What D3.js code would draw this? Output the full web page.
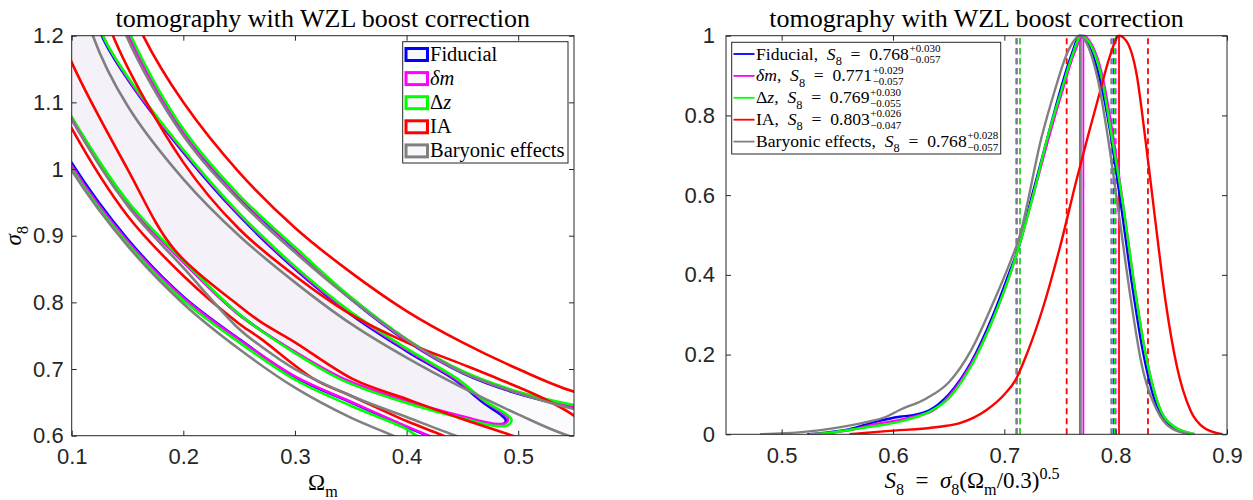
<!DOCTYPE html>
<html>
<head>
<meta charset="utf-8">
<script src="https://cdn.jsdelivr.net/npm/d3@7"></script>
<style>
  body { margin: 0; background: #ffffff; }
  svg { display: block; }
</style>
</head>
<body>
<svg id="fig" width="1253" height="500"></svg>
<script>
// ---------------- data ----------------
const modelNames  = ["Fiducial", "δm", "Δz", "IA", "Baryonic effects"];
const modelColors = ["#0000ff", "#ff00ff", "#00ff00", "#ff0000", "#808080"];

// S8 summary per model
const s8Mean  = [0.768, 0.771, 0.769, 0.803, 0.768];
const s8Plus  = [0.030, 0.029, 0.030, 0.026, 0.028];
const s8Minus = [0.057, 0.057, 0.055, 0.047, 0.057];

// tick labels
const omTicks  = [0.1, 0.2, 0.3, 0.4, 0.5];
const sigTicks = [0.6, 0.7, 0.8, 0.9, 1.0, 1.1, 1.2];
const s8Ticks  = [0.5, 0.6, 0.7, 0.8, 0.9];
const pTicks   = [0, 0.2, 0.4, 0.6, 0.8, 1];

// 2D contours in (Ωm, σ8): lower branch, then upper branch back to the start (closed)
const fid1 = [[0.05,1.30],[0.08,1.14],[0.1,1.076],[0.15,0.95],[0.2,0.862],[0.25,0.782],[0.3,0.725],[0.343,0.684],[0.4,0.65],[0.45,0.628],[0.475,0.617],[0.486,0.617],[0.489,0.623],
              [0.484,0.632],[0.47,0.648],[0.443,0.684],[0.4,0.727],[0.35,0.782],[0.3,0.85],[0.25,0.93],[0.2,1.025],[0.15,1.135],[0.127,1.2],[0.115,1.27],[0.05,1.30]];
const fid2 = [[0.05,1.25],[0.08,1.07],[0.1,1.009],[0.15,0.895],[0.2,0.8085],[0.25,0.745],[0.3,0.688],[0.35,0.65],[0.4,0.613],[0.419,0.6],[0.45,0.58],[0.62,0.55],
              [0.62,0.625],[0.55,0.643],[0.5,0.663],[0.45,0.694],[0.4,0.742],[0.35,0.805],[0.3,0.88],[0.25,0.958],[0.2,1.055],[0.151,1.2],[0.13,1.3],[0.05,1.3]];
const dm1  = [[0.05,1.30],[0.08,1.14],[0.1,1.074],[0.15,0.948],[0.2,0.86],[0.25,0.781],[0.3,0.726],[0.343,0.686],[0.4,0.652],[0.45,0.629],[0.478,0.618],[0.489,0.619],[0.491,0.626],
              [0.486,0.634],[0.471,0.65],[0.443,0.686],[0.4,0.729],[0.35,0.784],[0.3,0.852],[0.25,0.932],[0.2,1.027],[0.15,1.137],[0.128,1.2],[0.115,1.27],[0.05,1.30]];
const dm2  = [[0.05,1.25],[0.08,1.07],[0.1,1.005],[0.15,0.892],[0.2,0.807],[0.25,0.744],[0.3,0.689],[0.35,0.651],[0.4,0.614],[0.42,0.6],[0.45,0.58],[0.62,0.55],
              [0.62,0.626],[0.55,0.644],[0.5,0.664],[0.45,0.695],[0.4,0.743],[0.35,0.806],[0.3,0.881],[0.25,0.959],[0.2,1.056],[0.151,1.2],[0.13,1.3],[0.05,1.3]];
const dz1  = [[0.05,1.30],[0.08,1.14],[0.1,1.078],[0.15,0.952],[0.2,0.863],[0.25,0.782],[0.3,0.724],[0.343,0.683],[0.4,0.649],[0.45,0.626],[0.478,0.615],[0.491,0.616],[0.494,0.624],
              [0.488,0.634],[0.472,0.65],[0.445,0.686],[0.4,0.731],[0.35,0.786],[0.3,0.854],[0.25,0.934],[0.2,1.029],[0.15,1.139],[0.128,1.2],[0.115,1.27],[0.05,1.30]];
const dz2  = [[0.05,1.25],[0.08,1.06],[0.1,1.0],[0.15,0.888],[0.2,0.803],[0.25,0.740],[0.3,0.684],[0.35,0.645],[0.4,0.61],[0.409,0.6],[0.45,0.575],[0.62,0.55],
              [0.62,0.627],[0.55,0.646],[0.5,0.666],[0.45,0.697],[0.4,0.745],[0.35,0.808],[0.3,0.883],[0.25,0.961],[0.2,1.06],[0.153,1.2],[0.13,1.3],[0.05,1.3]];
const ia1  = [[0.05,1.40],[0.08,1.25],[0.1,1.16],[0.15,1.0],[0.192,0.879],[0.25,0.795],[0.269,0.771],[0.3,0.74],[0.353,0.684],[0.4,0.655],[0.45,0.625],[0.495,0.6],[0.53,0.58],
              [0.575,0.58],[0.57,0.6],[0.55,0.63],[0.52,0.658],[0.484,0.684],[0.45,0.707],[0.4,0.74],[0.35,0.782],[0.3,0.84],[0.25,0.91],[0.2,1.01],[0.137,1.2],[0.12,1.3],[0.05,1.4]];
const ia2  = [[0.05,1.30],[0.08,1.13],[0.1,1.061],[0.15,0.93],[0.2,0.84],[0.25,0.768],[0.269,0.746],[0.318,0.684],[0.35,0.66],[0.4,0.622],[0.433,0.6],[0.46,0.58],[0.62,0.55],
              [0.62,0.64],[0.55,0.666],[0.5,0.70],[0.45,0.74],[0.4,0.787],[0.35,0.845],[0.3,0.912],[0.25,0.995],[0.2,1.1],[0.164,1.2],[0.14,1.3],[0.05,1.3]];
const bar1 = [[0.05,1.30],[0.08,1.15],[0.1,1.076],[0.15,0.945],[0.2,0.852],[0.25,0.76],[0.269,0.735],[0.3,0.70],[0.35,0.66],[0.4,0.628],[0.444,0.6],[0.47,0.585],[0.62,0.56],
              [0.62,0.57],[0.545,0.6],[0.5,0.632],[0.45,0.672],[0.4,0.717],[0.35,0.768],[0.3,0.83],[0.25,0.9],[0.2,0.985],[0.15,1.095],[0.119,1.2],[0.105,1.3],[0.05,1.3]];
const bar2 = [[0.05,1.25],[0.08,1.06],[0.1,0.998],[0.15,0.885],[0.2,0.798],[0.25,0.73],[0.3,0.672],[0.35,0.627],[0.388,0.6],[0.42,0.575],[0.62,0.55],
              [0.62,0.62],[0.55,0.64],[0.5,0.664],[0.45,0.695],[0.4,0.744],[0.35,0.805],[0.3,0.875],[0.25,0.953],[0.2,1.05],[0.149,1.2],[0.13,1.3],[0.05,1.3]];

// 1D posteriors of S8 (S8, normalised probability)
const pdfFid = [[0.523,0],[0.54,0.004],[0.56,0.012],[0.585,0.032],[0.606,0.044],[0.618,0.048],[0.633,0.061],[0.65,0.10],[0.67,0.18],[0.69,0.30],[0.705,0.41],[0.713,0.47],[0.725,0.60],[0.739,0.747],[0.75,0.86],[0.76,0.95],[0.768,1.0],[0.775,0.98],[0.785,0.90],[0.795,0.76],[0.805,0.57],[0.815,0.37],[0.825,0.20],[0.837,0.07],[0.85,0.02],[0.867,0]];
const pdfDm  = [[0.525,0],[0.54,0.003],[0.56,0.010],[0.585,0.026],[0.606,0.036],[0.624,0.048],[0.635,0.058],[0.65,0.095],[0.67,0.175],[0.69,0.29],[0.705,0.40],[0.713,0.47],[0.725,0.59],[0.74,0.745],[0.752,0.86],[0.762,0.95],[0.771,1.0],[0.778,0.98],[0.788,0.90],[0.797,0.76],[0.807,0.57],[0.817,0.37],[0.827,0.20],[0.839,0.07],[0.852,0.02],[0.871,0]];
const pdfDz  = [[0.525,0],[0.54,0.003],[0.57,0.015],[0.606,0.032],[0.63,0.053],[0.65,0.09],[0.67,0.17],[0.69,0.29],[0.705,0.40],[0.713,0.47],[0.725,0.59],[0.739,0.747],[0.751,0.86],[0.761,0.95],[0.769,1.0],[0.777,0.98],[0.787,0.90],[0.7965,0.747],[0.807,0.57],[0.817,0.37],[0.827,0.20],[0.839,0.07],[0.852,0.02],[0.871,0]];
const pdfIa  = [[0.561,0],[0.594,0.008],[0.642,0.019],[0.66,0.028],[0.684,0.061],[0.70,0.10],[0.71,0.136],[0.72,0.20],[0.735,0.32],[0.75,0.47],[0.765,0.64],[0.775,0.747],[0.785,0.85],[0.795,0.95],[0.803,1.0],[0.81,0.985],[0.819,0.90],[0.8264,0.747],[0.835,0.55],[0.845,0.33],[0.855,0.17],[0.867,0.061],[0.88,0.015],[0.896,0]];
const pdfBar = [[0.4805,0],[0.52,0.006],[0.546,0.015],[0.575,0.03],[0.594,0.044],[0.606,0.061],[0.63,0.09],[0.65,0.13],[0.67,0.21],[0.69,0.33],[0.705,0.43],[0.713,0.49],[0.7336,0.747],[0.745,0.86],[0.757,0.96],[0.768,1.0],[0.775,0.975],[0.784,0.89],[0.7929,0.747],[0.803,0.55],[0.813,0.35],[0.823,0.18],[0.837,0.061],[0.85,0.015],[0.867,0]];

const contours = [[fid1, fid2], [dm1, dm2], [dz1, dz2], [ia1, ia2], [bar1, bar2]];
const pdfs = [pdfFid, pdfDm, pdfDz, pdfIa, pdfBar];

// ---------------- layout ----------------
const svg = d3.select("#fig");
const AX = "#262626";
const SANS = "'Liberation Sans', Arial, sans-serif";
const SERIF = "'Liberation Serif', 'Times New Roman', serif";
const EN = "\u2002";   // wider math spacing around "="

const L = { x0: 71.7, x1: 574, y0: 35.7, y1: 435.7 };
const R = { x0: 726, x1: 1227, y0: 35.7, y1: 434.3 };

const xL = d3.scaleLinear().domain([0.1, 0.55]).range([L.x0, L.x1]);
const yL = d3.scaleLinear().domain([0.6, 1.2]).range([L.y1, L.y0]);
const xR = d3.scaleLinear().domain([0.45, 0.9]).range([R.x0, R.x1]);
const yR = d3.scaleLinear().domain([0, 1]).range([R.y1, R.y0]);

svg.append("rect").attr("width", 1253).attr("height", 500).attr("fill", "#fff");

const defs = svg.append("defs");
defs.append("clipPath").attr("id", "clipL").append("rect")
  .attr("x", L.x0).attr("y", L.y0).attr("width", L.x1 - L.x0).attr("height", L.y1 - L.y0);
defs.append("clipPath").attr("id", "clipR").append("rect")
  .attr("x", R.x0).attr("y", R.y0 - 2).attr("width", R.x1 - R.x0).attr("height", R.y1 - R.y0 + 2);

// math-style text helper: parts = [{t, it, sub, sup}]
function addMath(text, parts, size) {
  let shift = 0;
  parts.forEach(p => {
    const ts = text.append("tspan").text(p.t);
    let target = 0, fs = size;
    if (p.sub) { target = size * 0.3; fs = size * 0.7; }
    if (p.sup) { target = -size * 0.4; fs = size * 0.7; }
    ts.attr("font-size", fs);
    if (p.it) ts.attr("font-style", "italic");
    const dy = target - shift;
    if (dy !== 0) ts.attr("dy", dy);
    shift = target;
  });
  return text;
}

function drawAxes(g, x, y, box, xt, yt, yLabelGap) {
  const ax = g.append("g").attr("color", AX);
  ax.append("g").attr("transform", `translate(0,${box.y1})`)
    .call(d3.axisBottom(x).tickValues(xt).tickSize(-5).tickPadding(13).tickFormat(d3.format("")))
    .call(s => s.select(".domain").remove());
  ax.append("g").attr("transform", `translate(0,${box.y0})`)
    .call(d3.axisTop(x).tickValues(xt).tickSize(-5).tickFormat(""))
    .call(s => s.select(".domain").remove());
  ax.append("g").attr("transform", `translate(${box.x0},0)`)
    .call(d3.axisLeft(y).tickValues(yt).tickSize(-5).tickPadding(yLabelGap).tickFormat(d3.format("")))
    .call(s => s.select(".domain").remove());
  ax.append("g").attr("transform", `translate(${box.x1},0)`)
    .call(d3.axisRight(y).tickValues(yt).tickSize(-5).tickFormat(""))
    .call(s => s.select(".domain").remove());
  ax.selectAll(".tick line").attr("stroke", AX).attr("stroke-width", 1);
  ax.selectAll(".tick text").attr("font-family", SANS).attr("font-size", 22).attr("fill", AX);
  ax.append("rect").attr("x", box.x0).attr("y", box.y0)
    .attr("width", box.x1 - box.x0).attr("height", box.y1 - box.y0)
    .attr("fill", "none").attr("stroke", AX).attr("stroke-width", 1);
}

// ---------------- left panel: contours ----------------
const gL = svg.append("g");
const lineL = d3.line().x(d => xL(d[0])).y(d => yL(d[1])).curve(d3.curveCatmullRom.alpha(0.5));
const plotL = gL.append("g").attr("clip-path", "url(#clipL)");

plotL.append("path").datum(fid2).attr("d", lineL).attr("fill", "#fbfafc").attr("stroke", "none");
plotL.append("path").datum(fid1).attr("d", lineL).attr("fill", "#f4f1f8").attr("stroke", "none");

contours.forEach((pair, i) => {
  pair.forEach(c => {
    plotL.append("path").datum(c).attr("d", lineL)
      .attr("fill", "none").attr("stroke", modelColors[i])
      .attr("stroke-width", 2.6).attr("stroke-linejoin", "round");
  });
});

drawAxes(gL, xL, yL, L, omTicks, sigTicks, 8);

// title and axis labels
gL.append("text").attr("x", (L.x0 + L.x1) / 2).attr("y", 27)
  .attr("text-anchor", "middle").attr("font-family", SERIF).attr("font-size", 26).attr("fill", "#000")
  .text("tomography with WZL boost correction");
addMath(gL.append("text").attr("x", (L.x0 + L.x1) / 2).attr("y", 490)
  .attr("text-anchor", "middle").attr("font-family", SERIF).attr("fill", "#000"),
  [{ t: "Ω" }, { t: "m", sub: true }], 23);
addMath(gL.append("text").attr("transform", `translate(21,${(L.y0 + L.y1) / 2}) rotate(-90)`)
  .attr("text-anchor", "middle").attr("font-family", SERIF).attr("fill", "#000"),
  [{ t: "σ", it: true }, { t: "8", sub: true }], 23);

// legend (left)
const legL = gL.append("g");
legL.append("rect").attr("x", 402.7).attr("y", 41.7).attr("width", 165.3).attr("height", 121.3)
  .attr("fill", "#fff").attr("stroke", AX).attr("stroke-width", 1);
const legLabelsL = [
  [{ t: "Fiducial" }],
  [{ t: "δm", it: true }],
  [{ t: "Δ" }, { t: "z", it: true }],
  [{ t: "IA" }],
  [{ t: "Baryonic effects" }]
];
legLabelsL.forEach((parts, i) => {
  const cy = 54.5 + i * 24.1;
  legL.append("rect").attr("x", 406).attr("y", cy - 6).attr("width", 21.5).attr("height", 12)
    .attr("fill", "#f8f7fb").attr("stroke", modelColors[i]).attr("stroke-width", 3);
  addMath(legL.append("text").attr("x", 430).attr("y", cy + 6.5)
    .attr("font-family", SERIF).attr("fill", "#000"), parts, 20.5);
});

// ---------------- right panel: 1D posteriors ----------------
const gR = svg.append("g");
const plotR = gR.append("g").attr("clip-path", "url(#clipR)");
const lineR = d3.line().x(d => xR(d[0])).y(d => yR(d[1])).curve(d3.curveMonotoneX);

// credible interval bounds (dashed) and central values (solid)
modelNames.forEach((m, i) => {
  [s8Mean[i] - s8Minus[i], s8Mean[i] + s8Plus[i]].forEach(v => {
    plotR.append("line").attr("x1", xR(v)).attr("x2", xR(v)).attr("y1", yR(0)).attr("y2", yR(1))
      .attr("stroke", modelColors[i]).attr("stroke-width", 1.8).attr("stroke-dasharray", "6,4");
  });
});
modelNames.forEach((m, i) => {
  plotR.append("line").attr("x1", xR(s8Mean[i])).attr("x2", xR(s8Mean[i]))
    .attr("y1", yR(0)).attr("y2", yR(1))
    .attr("stroke", modelColors[i]).attr("stroke-width", 1.8);
});
pdfs.forEach((d, i) => {
  plotR.append("path").datum(d).attr("d", lineR).attr("fill", "none")
    .attr("stroke", modelColors[i]).attr("stroke-width", 2.4).attr("stroke-linejoin", "round");
});

drawAxes(gR, xR, yR, R, s8Ticks, pTicks, 11);

gR.append("text").attr("x", (R.x0 + R.x1) / 2).attr("y", 27)
  .attr("text-anchor", "middle").attr("font-family", SERIF).attr("font-size", 26).attr("fill", "#000")
  .text("tomography with WZL boost correction");
addMath(gR.append("text").attr("x", 972).attr("y", 488)
  .attr("text-anchor", "middle").attr("font-family", SERIF).attr("fill", "#000"),
  [{ t: "S", it: true }, { t: "8", sub: true }, { t: EN + "=" + EN }, { t: "σ", it: true }, { t: "8", sub: true },
   { t: "(Ω" }, { t: "m", sub: true }, { t: "/0.3)" }, { t: "0.5", sup: true }], 23);

// legend (right)
const legR = gR.append("g");
legR.append("rect").attr("x", 731.7).attr("y", 42.3).attr("width", 269).attr("height", 111.7)
  .attr("fill", "#fff").attr("stroke", AX).attr("stroke-width", 1);
const prefixR = [
  [{ t: "Fiducial," + EN }],
  [{ t: "δm", it: true }, { t: "," + EN }],
  [{ t: "Δ" }, { t: "z", it: true }, { t: "," + EN }],
  [{ t: "IA," + EN }],
  [{ t: "Baryonic effects," + EN }]
];
const f3 = d3.format(".3f");
prefixR.forEach((pre, i) => {
  const cy = 54 + i * 21.9;
  legR.append("line").attr("x1", 733.5).attr("x2", 754.5).attr("y1", cy).attr("y2", cy)
    .attr("stroke", modelColors[i]).attr("stroke-width", 1.8);
  const t = legR.append("text").attr("x", 756).attr("y", cy + 5.5)
    .attr("font-family", SERIF).attr("fill", "#000");
  addMath(t, pre.concat([{ t: "S", it: true }, { t: "8", sub: true }, { t: EN + "=" + EN + f3(s8Mean[i]) }]), 17.6);
  const w = t.node().getComputedTextLength();
  legR.append("text").attr("x", 756 + w + 0.5).attr("y", cy - 2.3)
    .attr("font-family", SERIF).attr("font-size", 11).attr("fill", "#000")
    .text("+" + f3(s8Plus[i]));
  legR.append("text").attr("x", 756 + w + 0.5).attr("y", cy + 9.3)
    .attr("font-family", SERIF).attr("font-size", 11).attr("fill", "#000")
    .text("−" + f3(s8Minus[i]));
});
</script>
</body>
</html>
